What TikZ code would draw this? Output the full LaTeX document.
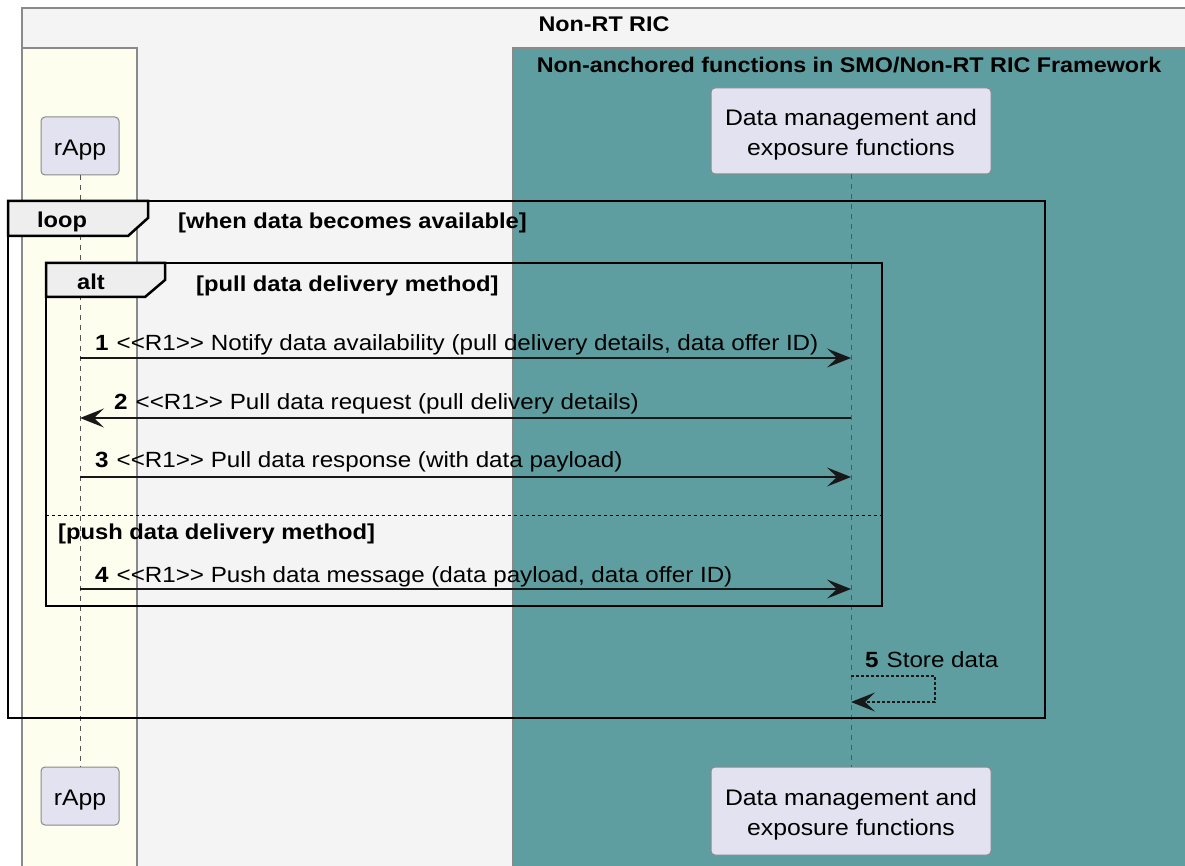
\documentclass[tikz,border=0pt]{standalone}
\usepackage{fontspec}
\setmainfont{Liberation Sans}[Ligatures=TeXOff,FakeStretch=1.1]
\usetikzlibrary{arrows.meta}

\definecolor{ricbg}{HTML}{F4F4F4}
\definecolor{boxline}{HTML}{8A8A8A}
\definecolor{rappbg}{HTML}{FEFEEE}
\definecolor{smobg}{HTML}{5F9EA0}
\definecolor{partbg}{HTML}{E2E2F0}
\definecolor{tabbg}{HTML}{EEEEEE}
\definecolor{ink}{HTML}{181818}
\definecolor{lifeln}{HTML}{555555}

% raises the top of a participant's first line so its text sits a little low
\newcommand\partstrut{\rule{0pt}{24pt}}

\tikzset{
  groupbox/.style={draw=boxline, line width=1.2pt},
  boxtitle/.style={anchor=base, inner sep=0pt, font=\fontsize{21.2}{26}\selectfont\bfseries},
  participant/.style={draw=boxline, line width=1pt, fill=partbg, rounded corners=4pt,
    align=center, inner sep=0pt, font=\fontsize{22.5}{30}\selectfont},
  lifeline/.style={draw=lifeln, line width=1pt, dash pattern=on 5pt off 5pt},
  msg/.style={draw=ink, line width=1.5pt, -{Stealth[length=24pt,width=19pt,inset=10pt]}},
  selfmsg/.style={msg, line width=1.2pt, dash pattern=on 3pt off 2pt},
  msglabel/.style={anchor=base west, inner sep=0pt, font=\fontsize{22}{26}\selectfont},
  frameline/.style={draw=black, line width=2.5pt, line join=miter},
  tablabel/.style={anchor=base, inner sep=0pt, font=\fontsize{21.5}{26}\selectfont\bfseries},
  guard/.style={anchor=base west, inner sep=0pt, font=\fontsize{21.6}{26}\selectfont\bfseries},
  sepline/.style={draw=black, line width=1pt, dash pattern=on 3pt off 3pt},
}

\begin{document}
\begin{tikzpicture}[x=1pt,y=-1pt]
  \useasboundingbox (0,0) rectangle (1185,866);
  \clip (0,0) rectangle (1185,866);
  \fill[white] (0,0) rectangle (1185,866);

  % grouping boxes
  \draw[groupbox, fill=ricbg] (22,8) rectangle (1200,880);
  \node[boxtitle] (rictitle) at (604,32) {Non-RT RIC};
  \draw[groupbox, fill=rappbg] (22,48) rectangle (137,880);
  \draw[groupbox, fill=smobg] (513,48) rectangle (1200,880);
  \node[boxtitle] (smotitle) at (849,73) {Non-anchored functions in SMO/Non-RT RIC Framework};

  % participants
  \node[participant, minimum width=78pt, minimum height=58pt] (rappT) at (80,146) {\partstrut rApp};
  \node[participant, minimum width=280pt, minimum height=86pt] (dmeT) at (851,131)
    {\partstrut Data management and\\exposure functions};
  \node[participant, minimum width=78pt, minimum height=58pt] (rappB) at (80,796) {\partstrut rApp};
  \node[participant, minimum width=280pt, minimum height=88pt] (dmeB) at (851,811)
    {\partstrut Data management and\\exposure functions};

  % lifelines
  \draw[lifeline] (rappT.south) -- (rappB.north);
  \draw[lifeline] (dmeT.south) -- (dmeB.north);

  % message end points on the lifelines
  \coordinate (r1) at (80,358);  \coordinate (d1) at (851,358);
  \coordinate (r2) at (80,418);  \coordinate (d2) at (851,418);
  \coordinate (r3) at (80,477);  \coordinate (d3) at (851,477);
  \coordinate (r4) at (80,589);  \coordinate (d4) at (851,589);
  \coordinate (s5a) at (851,676); \coordinate (s5b) at (851,702);

  % loop frame
  \draw[frameline] (8,201) rectangle (1045,718);
  \draw[frameline, fill=tabbg] (8,201) -- (148,201) -- (148,218) -- (128,236) -- (8,236) -- cycle;
  \node[tablabel] (looplbl) at (62,228) {loop};
  \node[guard] (loopguard) at (178,229) {[when data becomes available]};

  % alt frame
  \draw[frameline] (46,263) rectangle (882,606);
  \draw[frameline, fill=tabbg] (46,263) -- (165,263) -- (165,280) -- (145,297) -- (46,297) -- cycle;
  \node[tablabel] (altlbl) at (91,290) {alt};
  \node[guard] (pullguard) at (196,292) {[pull data delivery method]};
  \draw[sepline] (46,515) -- (882,515);
  \node[guard] (pushguard) at (58,539) {[push data delivery method]};

  % messages
  \draw[msg] (r1) -- (d1);
  \node[msglabel] (m1) at (95,350) {\textbf{1}\hspace{8pt}<<R1>> Notify data availability (pull delivery details, data offer ID)};
  \draw[msg] (d2) -- (r2);
  \node[msglabel] (m2) at (114,409) {\textbf{2}\hspace{8pt}<<R1>> Pull data request (pull delivery details)};
  \draw[msg] (r3) -- (d3);
  \node[msglabel] (m3) at (95,467) {\textbf{3}\hspace{8pt}<<R1>> Pull data response (with data payload)};
  \draw[msg] (r4) -- (d4);
  \node[msglabel] (m4) at (95,582) {\textbf{4}\hspace{8pt}<<R1>> Push data message (data payload, data offer ID)};
  \draw[selfmsg] (s5a) -- (935,676) -- (935,702) -- (s5b);
  \node[msglabel] (m5) at (865,667) {\textbf{5}\hspace{8pt}Store data};
\end{tikzpicture}
\end{document}
